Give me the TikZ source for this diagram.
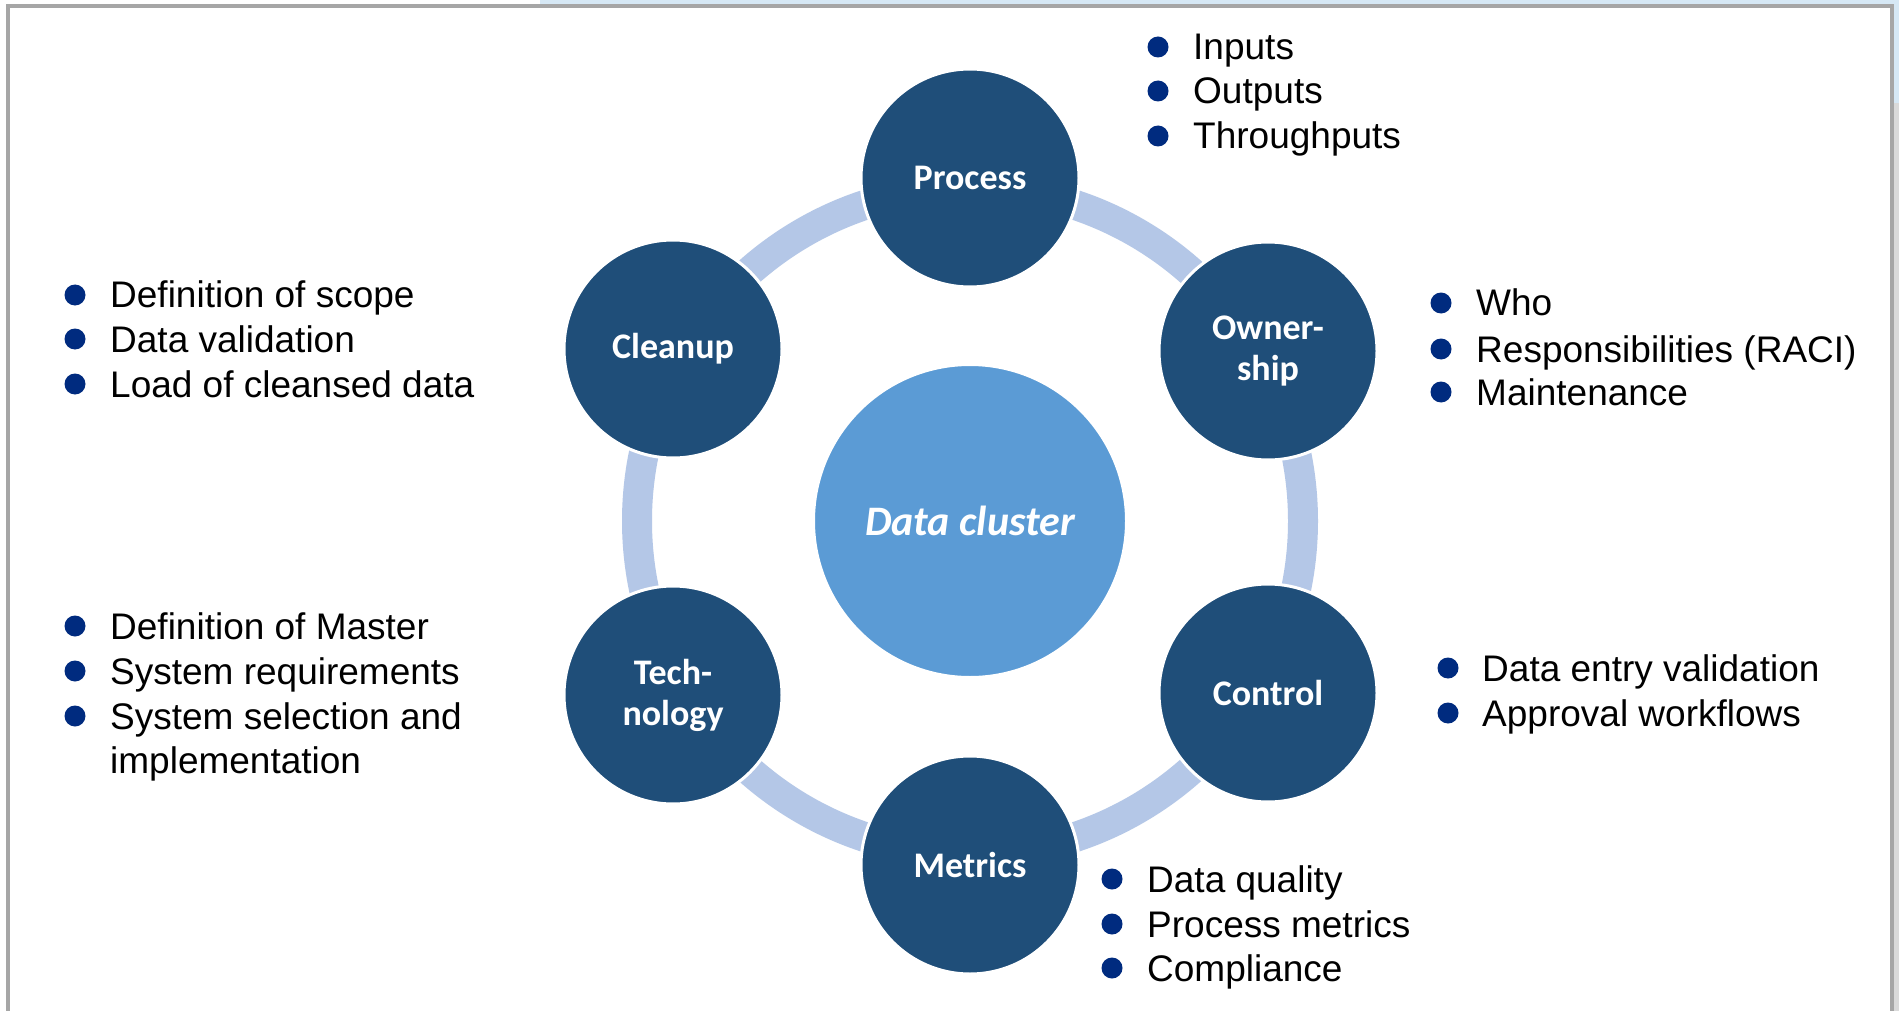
\documentclass[tikz,border=0pt]{standalone}
\usepackage{fontspec}
\setmainfont{Liberation Sans}
\newfontfamily\labfont{Carlito}
\definecolor{navy}{HTML}{002B7F}
\definecolor{hubdark}{HTML}{1F4E79}
\definecolor{hubcenter}{HTML}{5B9BD5}
\definecolor{ringblue}{HTML}{B4C7E7}
\definecolor{framegray}{HTML}{A6A6A6}
\definecolor{bglight}{HTML}{D6E8F5}
\definecolor{bggray}{HTML}{DADADA}
\tikzset{
  hub/.style={circle, fill=hubdark, draw=white, line width=3pt, minimum size=218pt, inner sep=0pt,
    text=white, font=\labfont\fontsize{36}{41}\selectfont\bfseries, align=center},
  core/.style={circle, fill=hubcenter, draw=white, line width=3pt, minimum size=313pt, inner sep=0pt,
    text=white, font=\labfont\fontsize{42}{48}\selectfont\bfseries\itshape},
  btext/.style={anchor=base west, inner sep=0pt, font=\fontsize{37}{44}\selectfont, text=black},
  bdot/.style={circle, fill=navy, minimum size=21pt, inner sep=0pt},
}
\begin{document}
\begin{tikzpicture}[x=1pt,y=-1pt]
\useasboundingbox (0,0) rectangle (1899,1011);
\fill[white] (0,0) rectangle (1899,1011);
% background outside frame
\fill[bglight] (540,0) rectangle (1899,5);
\fill[bglight] (1893,0) rectangle (1899,103);
\fill[bggray] (1893,103) rectangle (1899,1011);
\draw[framegray, line width=4pt] (8,1011) -- (8,6) -- (1892,6) -- (1892,1011);

% ring
\coordinate (c0) at (970,521);
\draw[ringblue, line width=30pt] (c0) circle[radius=333];

% nodes
\node[core] (core) at (c0) {Data cluster};
\node[hub] (process) at (970,178) {Process};
\node[hub] (owner) at (1268,351) {Owner-\\ship};
\node[hub] (control) at (1268,693) {Control};
\node[hub] (metrics) at (970,865) {Metrics};
\node[hub] (tech) at (673,695) {Tech-\\nology};
\node[hub] (cleanup) at (673,349) {Cleanup};

% bullet lists
\foreach \n/\y/\t in {p1/47/Inputs, p2/91/Outputs, p3/136/Throughputs}{
  \node[bdot] (d\n) at (1158,\y) {};
  \node[btext] (t\n) at (1193,\y+13) {\t};
}
\foreach \n/\y/\t in {o1/303/Who, o2/349/Responsibilities (RACI), o3/392/Maintenance}{
  \node[bdot] (d\n) at (1441,\y) {};
  \node[btext] (t\n) at (1476,\y+13) {\t};
}
\foreach \n/\y/\t in {c1/295/Definition of scope, c2/339/Data validation, c3/384/Load of cleansed data}{
  \node[bdot] (d\n) at (75,\y) {};
  \node[btext] (t\n) at (110,\y+13) {\t};
}
\foreach \n/\y/\t in {t1/626/Definition of Master, t2/671/System requirements, t3/716/System selection and}{
  \node[bdot] (d\n) at (75,\y) {};
  \node[btext] (t\n) at (110,\y+13) {\t};
}
\node[btext] (tt4) at (110,773) {implementation};
\foreach \n/\y/\t in {k1/668/Data entry validation, k2/713/Approval workflows}{
  \node[bdot] (d\n) at (1448,\y) {};
  \node[btext] (t\n) at (1482,\y+13) {\t};
}
\foreach \n/\y/\t in {m1/879/Data quality, m2/924/Process metrics, m3/968/Compliance}{
  \node[bdot] (d\n) at (1112,\y) {};
  \node[btext] (t\n) at (1147,\y+13) {\t};
}
\end{tikzpicture}
\end{document}
